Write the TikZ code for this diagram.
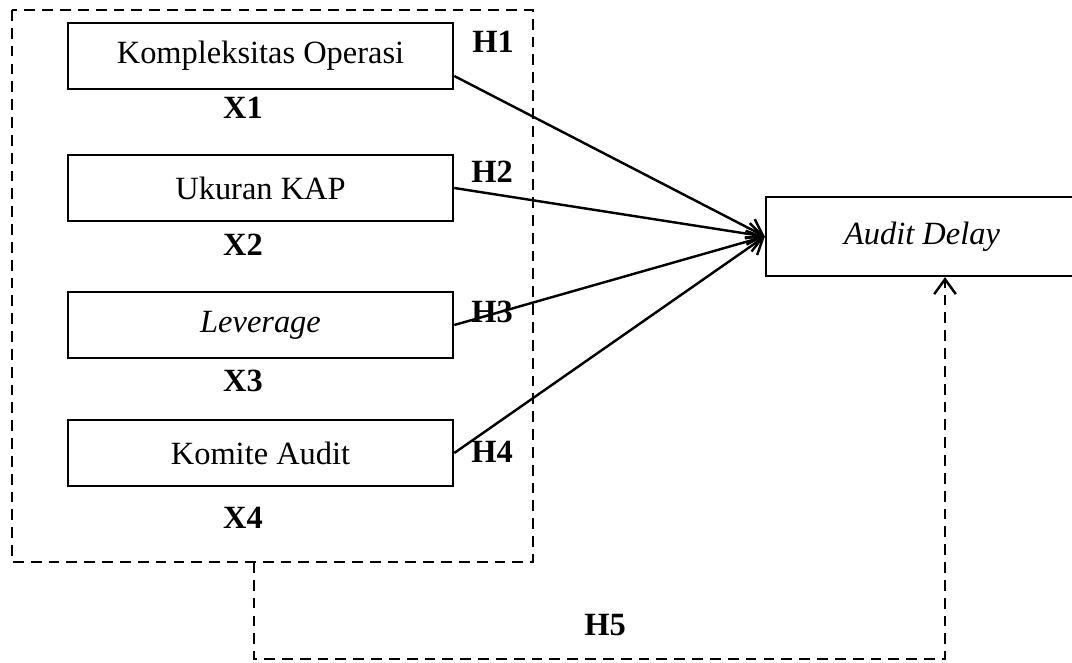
\documentclass[tikz,border=0pt]{standalone}
\usepackage{fontspec}
\setmainfont{Liberation Serif}
\usetikzlibrary{arrows.meta}

\tikzset{
  varbox/.style={draw, line width=0.9pt, minimum width=142.5pt, minimum height=24.4pt,
    inner sep=0pt, font=\fontsize{12}{14}\selectfont},
  lbl/.style={font=\fontsize{12}{14}\selectfont\bfseries, inner sep=0pt},
  tip/.style={-{Straight Barb[length=5.5pt,width=8pt,line width=0.9pt]}},
  link/.style={line width=0.9pt, tip},
  grp/.style={line width=0.9pt, dash pattern=on 4pt off 2.6pt},
}

\begin{document}
\begin{tikzpicture}[x=0.37pt,y=-0.37pt]
    \useasboundingbox (0,0) rectangle (1072,662);
    % variabel X
    \node[varbox] (ko) at (260.5,56) {Kompleksitas Operasi};
    \node[varbox] (kap) at (260.5,188) {Ukuran KAP};
    \node[varbox] (lev) at (260.5,325) {\textit{Leverage}};
    \node[varbox] (kom) at (260.5,453) {Komite Audit};
    \foreach \y/\lab in {108/X1,245/X2,381/X3,518/X4} \node[lbl] (\lab) at (243,\y) {\lab};
    % variabel Y
    \node[varbox, minimum width=115.4pt, minimum height=29.2pt] (ad) at (922,236.5) {\textit{Audit Delay}};
    % kotak putus-putus
    \draw[grp] (12,10) rectangle (533,562);
    \foreach \x/\y/\lab in {493/42/H1,492/172/H2,492/312/H3,492/452/H4,605/625/H5} \node[lbl] (\lab) at (\x,\y) {\lab};
    % panah
    \draw[link] ([yshift=-7.4pt]ko.east) -- (ad.west);
    \foreach \v in {kap,lev,kom} \draw[link] (\v.east) -- (ad.west);
    \coordinate (g1) at (254,562);
    \coordinate (g2) at (945,659);
    \draw[grp, tip] (g1) |- (g2) -- (g2 |- ad.south);
\end{tikzpicture}
\end{document}
